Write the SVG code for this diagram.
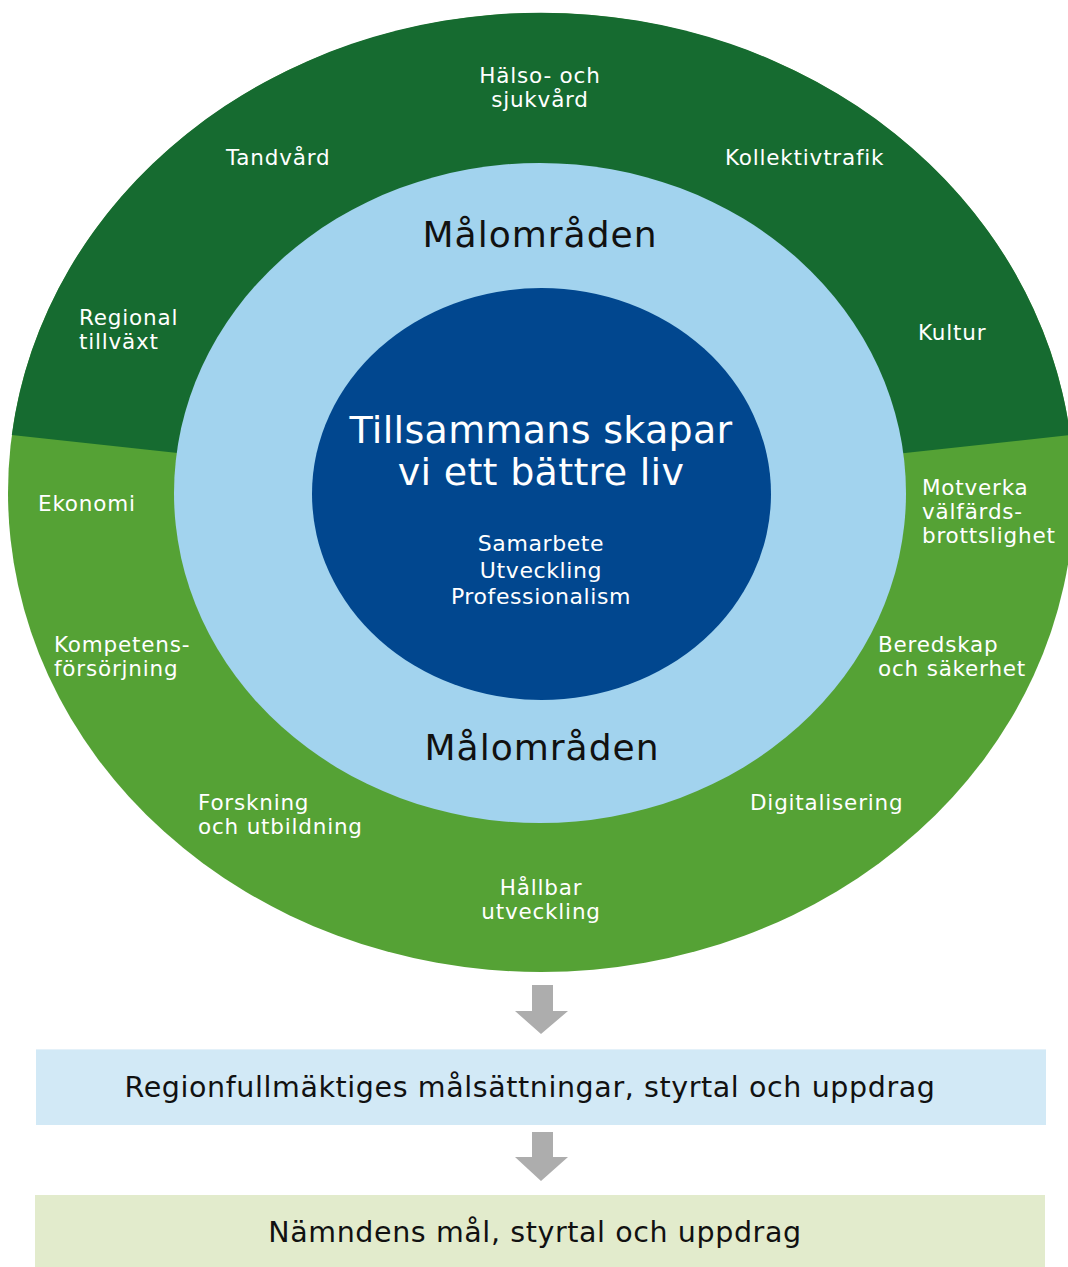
<svg xmlns="http://www.w3.org/2000/svg" width="1068" height="1267" viewBox="0 0 1068 1267">
<style>
text{font-family:"DejaVu Sans","Liberation Sans",sans-serif;}
.w{fill:#ffffff;font-size:21.5px;letter-spacing:0.8px;}
.c{text-anchor:middle;}
.big{fill:#ffffff;font-size:38px;letter-spacing:0.3px;text-anchor:middle;}
.mal{fill:#111111;font-size:36px;letter-spacing:1px;text-anchor:middle;}
.val{fill:#ffffff;font-size:22px;letter-spacing:0.6px;text-anchor:middle;}
.box{fill:#111111;font-size:28.5px;letter-spacing:0.6px;text-anchor:middle;}
.arr{fill:#ADADAD;}
</style>
<rect width="1068" height="1267" fill="#ffffff"/>
<g id="outer-ring">
<ellipse cx="541" cy="492.5" rx="533" ry="479.5" fill="#55A235"/>
<path d="M541 492.5 L11.8 435 A533 479.5 0 0 1 1070.2 435 Z" fill="#166B30"/>
</g>
<g id="malomraden-ring">
<ellipse cx="540" cy="493" rx="366" ry="330" fill="#A2D3EE"/>
</g>
<g id="vision-core">
<ellipse cx="541.5" cy="494" rx="229.5" ry="206" fill="#01478F"/>
<text class="big" x="541" y="443">Tillsammans skapar</text>
<text class="big" x="541" y="485">vi ett bättre liv</text>
<text class="val" x="541" y="551">Samarbete</text>
<text class="val" x="541" y="578">Utveckling</text>
<text class="val" x="541" y="604">Professionalism</text>
</g>
<g id="labels-ring">
<text class="mal" x="540" y="247">Målområden</text>
<text class="mal" x="542" y="760">Målområden</text>
</g>
<g id="areas">
<text class="w c" x="540" y="83">Hälso- och</text>
<text class="w c" x="540" y="107">sjukvård</text>
<text class="w" x="226" y="165">Tandvård</text>
<text class="w" x="725" y="165">Kollektivtrafik</text>
<text class="w" x="79" y="325">Regional</text>
<text class="w" x="79" y="349">tillväxt</text>
<text class="w" x="918" y="340">Kultur</text>
<text class="w" x="38" y="511">Ekonomi</text>
<text class="w" x="922" y="495">Motverka</text>
<text class="w" x="922" y="519">välfärds-</text>
<text class="w" x="922" y="543">brottslighet</text>
<text class="w" x="54" y="652">Kompetens-</text>
<text class="w" x="54" y="676">försörjning</text>
<text class="w" x="878" y="652">Beredskap</text>
<text class="w" x="878" y="676">och säkerhet</text>
<text class="w" x="198" y="810">Forskning</text>
<text class="w" x="198" y="834">och utbildning</text>
<text class="w" x="750" y="810">Digitalisering</text>
<text class="w c" x="541" y="895">Hållbar</text>
<text class="w c" x="541" y="919">utveckling</text>
</g>
<g id="box-regionfullmaktige">
<rect x="36" y="1049" width="1010" height="76" fill="#D2E9F6"/>
<line x1="36" y1="1049.5" x2="1046" y2="1049.5" stroke="#E4F1F9" stroke-width="1"/>
<text class="box" x="530" y="1097">Regionfullmäktiges målsättningar, styrtal och uppdrag</text>
</g>
<g id="box-namnden">
<rect x="35" y="1195" width="1010" height="72" fill="#E2EBCC"/>
<text class="box" x="535" y="1242">Nämndens mål, styrtal och uppdrag</text>
</g>
<g id="connectors">
<polygon class="arr" points="532,985 553,985 553,1011 568,1011 541,1034 515,1011 532,1011"/>
<polygon class="arr" points="532,1132 553,1132 553,1157 568,1157 541,1181 515,1157 532,1157"/>
</g>
</svg>
